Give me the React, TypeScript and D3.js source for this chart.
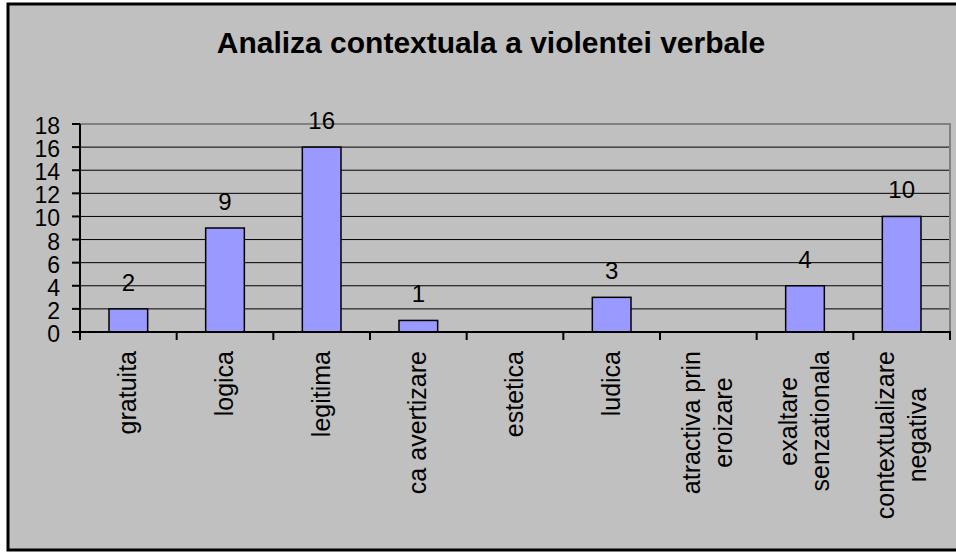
import { useEffect, useRef } from 'react';
import * as d3 from 'd3';

const categories: string[][] = [
  ['gratuita'],
  ['logica'],
  ['legitima'],
  ['ca avertizare'],
  ['estetica'],
  ['ludica'],
  ['atractiva prin', 'eroizare'],
  ['exaltare', 'senzationala'],
  ['contextualizare', 'negativa'],
];
const values = [2, 9, 16, 1, 0, 3, 0, 4, 10];
const yTicks = [0, 2, 4, 6, 8, 10, 12, 14, 16, 18];
const title = 'Analiza contextuala a violentei verbale';

export default function App() {
  const svgRef = useRef<SVGSVGElement>(null);

  useEffect(() => {
    if (!svgRef.current) return;
    const svg = d3.select(svgRef.current);
    svg.selectAll('*').remove();

    const font = 'Liberation Sans, Arial, sans-serif';
    const left = 80;
    const right = 950;
    const top = 124;
    const bottom = 332;

    // Outer frame
    svg
      .append('rect')
      .attr('x', 8)
      .attr('y', 4)
      .attr('width', 960)
      .attr('height', 546)
      .attr('fill', '#c0c0c0')
      .attr('stroke', '#000')
      .attr('stroke-width', 3);

    svg
      .append('text')
      .attr('x', 491)
      .attr('y', 53)
      .attr('text-anchor', 'middle')
      .attr('font-family', font)
      .attr('font-weight', 'bold')
      .attr('font-size', 30)
      .text(title);

    const x = d3
      .scaleBand()
      .domain(categories.map((c) => c.join(' ')))
      .range([left, right])
      .padding(0);

    const y = d3.scaleLinear().domain([0, 18]).range([bottom, top]);

    // Gridlines
    svg
      .selectAll('.grid')
      .data(yTicks.filter((t) => t > 0 && t < 18))
      .enter()
      .append('line')
      .attr('x1', left)
      .attr('x2', right)
      .attr('y1', (d) => y(d))
      .attr('y2', (d) => y(d))
      .attr('stroke', '#000')
      .attr('stroke-width', 1);

    // Plot border top/right
    svg
      .append('path')
      .attr('d', `M${left},${y(18)}H${right}V${bottom}`)
      .attr('fill', 'none')
      .attr('stroke', '#808080')
      .attr('stroke-width', 2);

    // Bars + value labels
    const bw = x.bandwidth() / 2.5;
    values.forEach((v, i) => {
      const cx = (x(categories[i].join(' ')) || 0) + x.bandwidth() / 2;
      if (v <= 0) return;
      svg
        .append('rect')
        .attr('x', cx - bw / 2)
        .attr('y', y(v))
        .attr('width', bw)
        .attr('height', bottom - y(v))
        .attr('fill', '#9999ff')
        .attr('stroke', '#000')
        .attr('stroke-width', 1.5);
      svg
        .append('text')
        .attr('x', cx)
        .attr('y', y(v) - 18)
        .attr('text-anchor', 'middle')
        .attr('font-family', font)
        .attr('font-size', 24)
        .text(v);
    });

    // Y axis
    svg
      .append('line')
      .attr('x1', left)
      .attr('x2', left)
      .attr('y1', top)
      .attr('y2', bottom)
      .attr('stroke', '#000')
      .attr('stroke-width', 2);
    yTicks.forEach((t) => {
      svg
        .append('line')
        .attr('x1', left - 8)
        .attr('x2', left)
        .attr('y1', y(t))
        .attr('y2', y(t))
        .attr('stroke', '#000')
        .attr('stroke-width', 2);
      svg
        .append('text')
        .attr('x', left - 20)
        .attr('y', y(t) + 10)
        .attr('text-anchor', 'end')
        .attr('font-family', font)
        .attr('font-size', 23)
        .text(t);
    });

    // X axis
    svg
      .append('line')
      .attr('x1', left - 1)
      .attr('x2', right + 1)
      .attr('y1', bottom)
      .attr('y2', bottom)
      .attr('stroke', '#000')
      .attr('stroke-width', 2);
    d3.range(categories.length + 1).forEach((i) => {
      const tx = left + i * x.bandwidth();
      svg
        .append('line')
        .attr('x1', tx)
        .attr('x2', tx)
        .attr('y1', bottom)
        .attr('y2', bottom + 8)
        .attr('stroke', '#000')
        .attr('stroke-width', 2);
    });

    // Category labels (rotated, multi-line blocks centred on the category)
    const lineGap = 32;
    const labelTop = 351;
    categories.forEach((lines) => {
      const cx = (x(lines.join(' ')) || 0) + x.bandwidth() / 2;
      const texts = lines.map((ln) =>
        svg
          .append('text')
          .attr('font-family', font)
          .attr('font-size', 25)
          .attr('text-anchor', 'middle')
          .text(ln)
      );
      const maxLen =
        d3.max(texts, (t) => (t.node() as SVGTextElement).getComputedTextLength()) || 0;
      texts.forEach((t, j) => {
        const colX = cx + (j - (lines.length - 1) / 2) * lineGap;
        const colY = labelTop + maxLen / 2;
        t.attr('transform', `translate(${colX + 8},${colY}) rotate(-90)`);
      });
    });
  }, []);

  return (
    <svg
      ref={svgRef}
      width={956}
      height={552}
      style={{ position: 'absolute', left: 0, top: 0, background: '#fff' }}
    />
  );
}
